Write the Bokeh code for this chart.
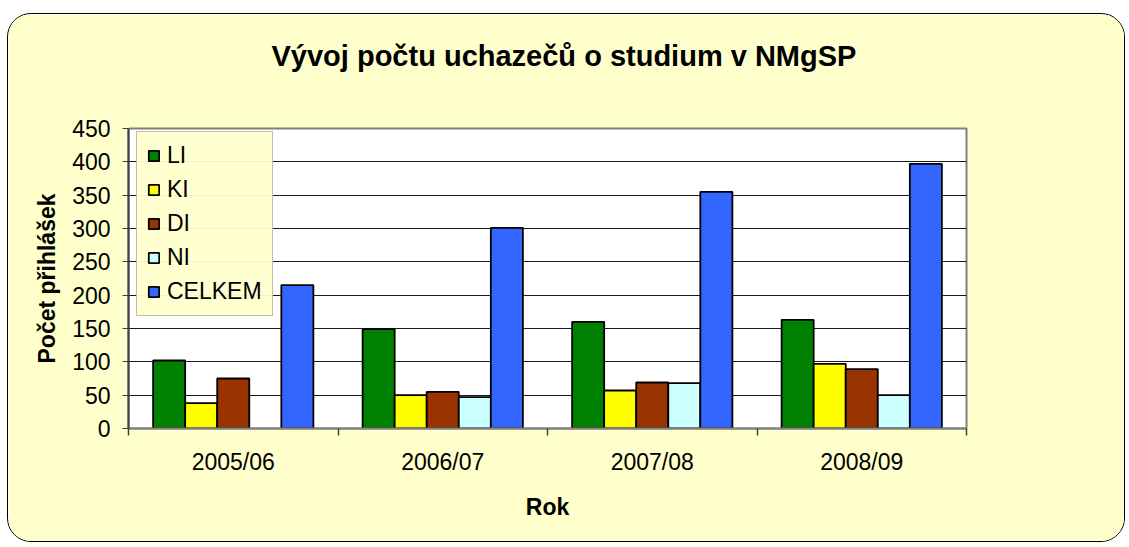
from bokeh.plotting import figure
from bokeh.models import (ColumnDataSource, FactorRange, Range1d, LinearAxis, CategoricalAxis,
                          FixedTicker, SingleIntervalTicker, Legend, LegendItem)
from bokeh.transform import dodge
from bokeh.embed import file_html
from bokeh.resources import INLINE

years = ["2005/06", "2006/07", "2007/08", "2008/09"]
series_names = ["LI", "KI", "DI", "NI", "CELKEM"]
LI = [102, 149, 160, 163]
KI = [38, 50, 57, 97]
DI = [75, 55, 69, 89]
NI = [float("nan"), 47, 68, 50]
CELKEM = [215, 301, 355, 397]
colors = ["#008000", "#FFFF00", "#993300", "#CCFFFF", "#3366FF"]

source = ColumnDataSource(dict(year=years, LI=LI, KI=KI, DI=DI, NI=NI, CELKEM=CELKEM))

FONT = "Liberation Sans"
FS = "23px"
BG = "#FFFFCC"

p = figure(width=1118, height=529,
           x_range=FactorRange(factors=years), y_range=Range1d(0, 450),
           x_axis_location=None, output_backend="svg", toolbar_location=None,
           min_border_left=120, min_border_right=160, min_border_top=114, min_border_bottom=115)

p.border_fill_color = BG
p.background_fill_color = "white"
p.outline_line_color = "#808080"
p.outline_line_width = 2
p.styles = {"border": "1.5px solid black", "border-radius": "24px", "overflow": "hidden",
            "margin-left": "7px", "margin-top": "13px"}

p.title.text = "Vývoj počtu uchazečů o studium v NMgSP"
p.title.align = "left"
p.title.offset = 143
p.title.text_font = FONT
p.title.text_font_size = "29px"
p.title.text_font_style = "bold"
p.title.text_color = "black"
p.title.standoff = 10

# invisible spacer axis above the frame to lift the title
spacer = LinearAxis(ticker=FixedTicker(ticks=[0]), major_label_overrides={0: ""},
                    major_label_text_font_size="1px", major_label_standoff=0,
                    major_tick_out=52, major_tick_in=0, major_tick_line_color=BG,
                    minor_tick_line_color=None, axis_line_color=None)
p.add_layout(spacer, "above")

# y axis
ya = p.yaxis[0]
ya.ticker = SingleIntervalTicker(interval=50)
ya.axis_label = "Počet přihlášek"
ya.axis_label_text_font = FONT
ya.axis_label_text_font_size = FS
ya.axis_label_text_font_style = "bold"
ya.axis_label_text_color = "black"
ya.axis_label_standoff = 9
ya.major_label_text_font = FONT
ya.major_label_text_font_size = FS
ya.major_label_text_color = "black"
ya.major_tick_out = 6
ya.major_tick_in = 0
ya.minor_tick_line_color = None
ya.axis_line_color = "#404040"
ya.axis_line_width = 2
ya.major_tick_line_color = "#404040"
ya.major_label_standoff = 12

p.xgrid.visible = False
p.ygrid.grid_line_color = "#1a1a1a"
p.ygrid.grid_line_width = 1.2

# category separator ticks (at category boundaries, in synthetic coordinates)
boundaries = [0, 1, 2, 3, 4]
sep_axis = LinearAxis(ticker=FixedTicker(ticks=boundaries),
                      major_label_overrides={b: "" for b in boundaries},
                      major_tick_out=7, major_tick_in=0, minor_tick_line_color=None,
                      axis_line_color="#808080", axis_line_width=2,
                      major_tick_line_color="#404040", major_tick_line_width=1.5,
                      major_label_text_font_size="1px", major_label_standoff=0)
p.add_layout(sep_axis, "below")

cat_axis = CategoricalAxis(axis_line_color=None, major_tick_line_color=None,
                           major_label_text_font=FONT, major_label_text_font_size=FS,
                           major_label_text_color="black", major_label_standoff=7,
                           axis_label="Rok", axis_label_text_font=FONT,
                           axis_label_text_font_size=FS, axis_label_text_font_style="bold",
                           axis_label_text_color="black", axis_label_standoff=16)
p.add_layout(cat_axis, "below")

w = 0.153
offsets = [-2 * w, -w, 0, w, 2 * w]
items = []
for name, col, off in zip(series_names, colors, offsets):
    r = p.vbar(x=dodge("year", off, range=p.x_range), top=name, width=w, source=source,
               fill_color=col, line_color="black", line_width=1.8)
    items.append(LegendItem(label=name, renderers=[r]))

# legend kept inside the plot frame (frame-clipped otherwise in the SVG output)
legend = Legend(items=items, location=(8, 112),
                background_fill_color=BG, border_line_color="#808080", border_line_width=1.5,
                label_text_font=FONT, label_text_font_size=FS, label_text_color="black",
                glyph_width=13, glyph_height=13, spacing=7, padding=10, margin=0,
                label_standoff=7, label_height=26)
p.add_layout(legend, "center")

open("out.html", "w").write(file_html(p, INLINE))
